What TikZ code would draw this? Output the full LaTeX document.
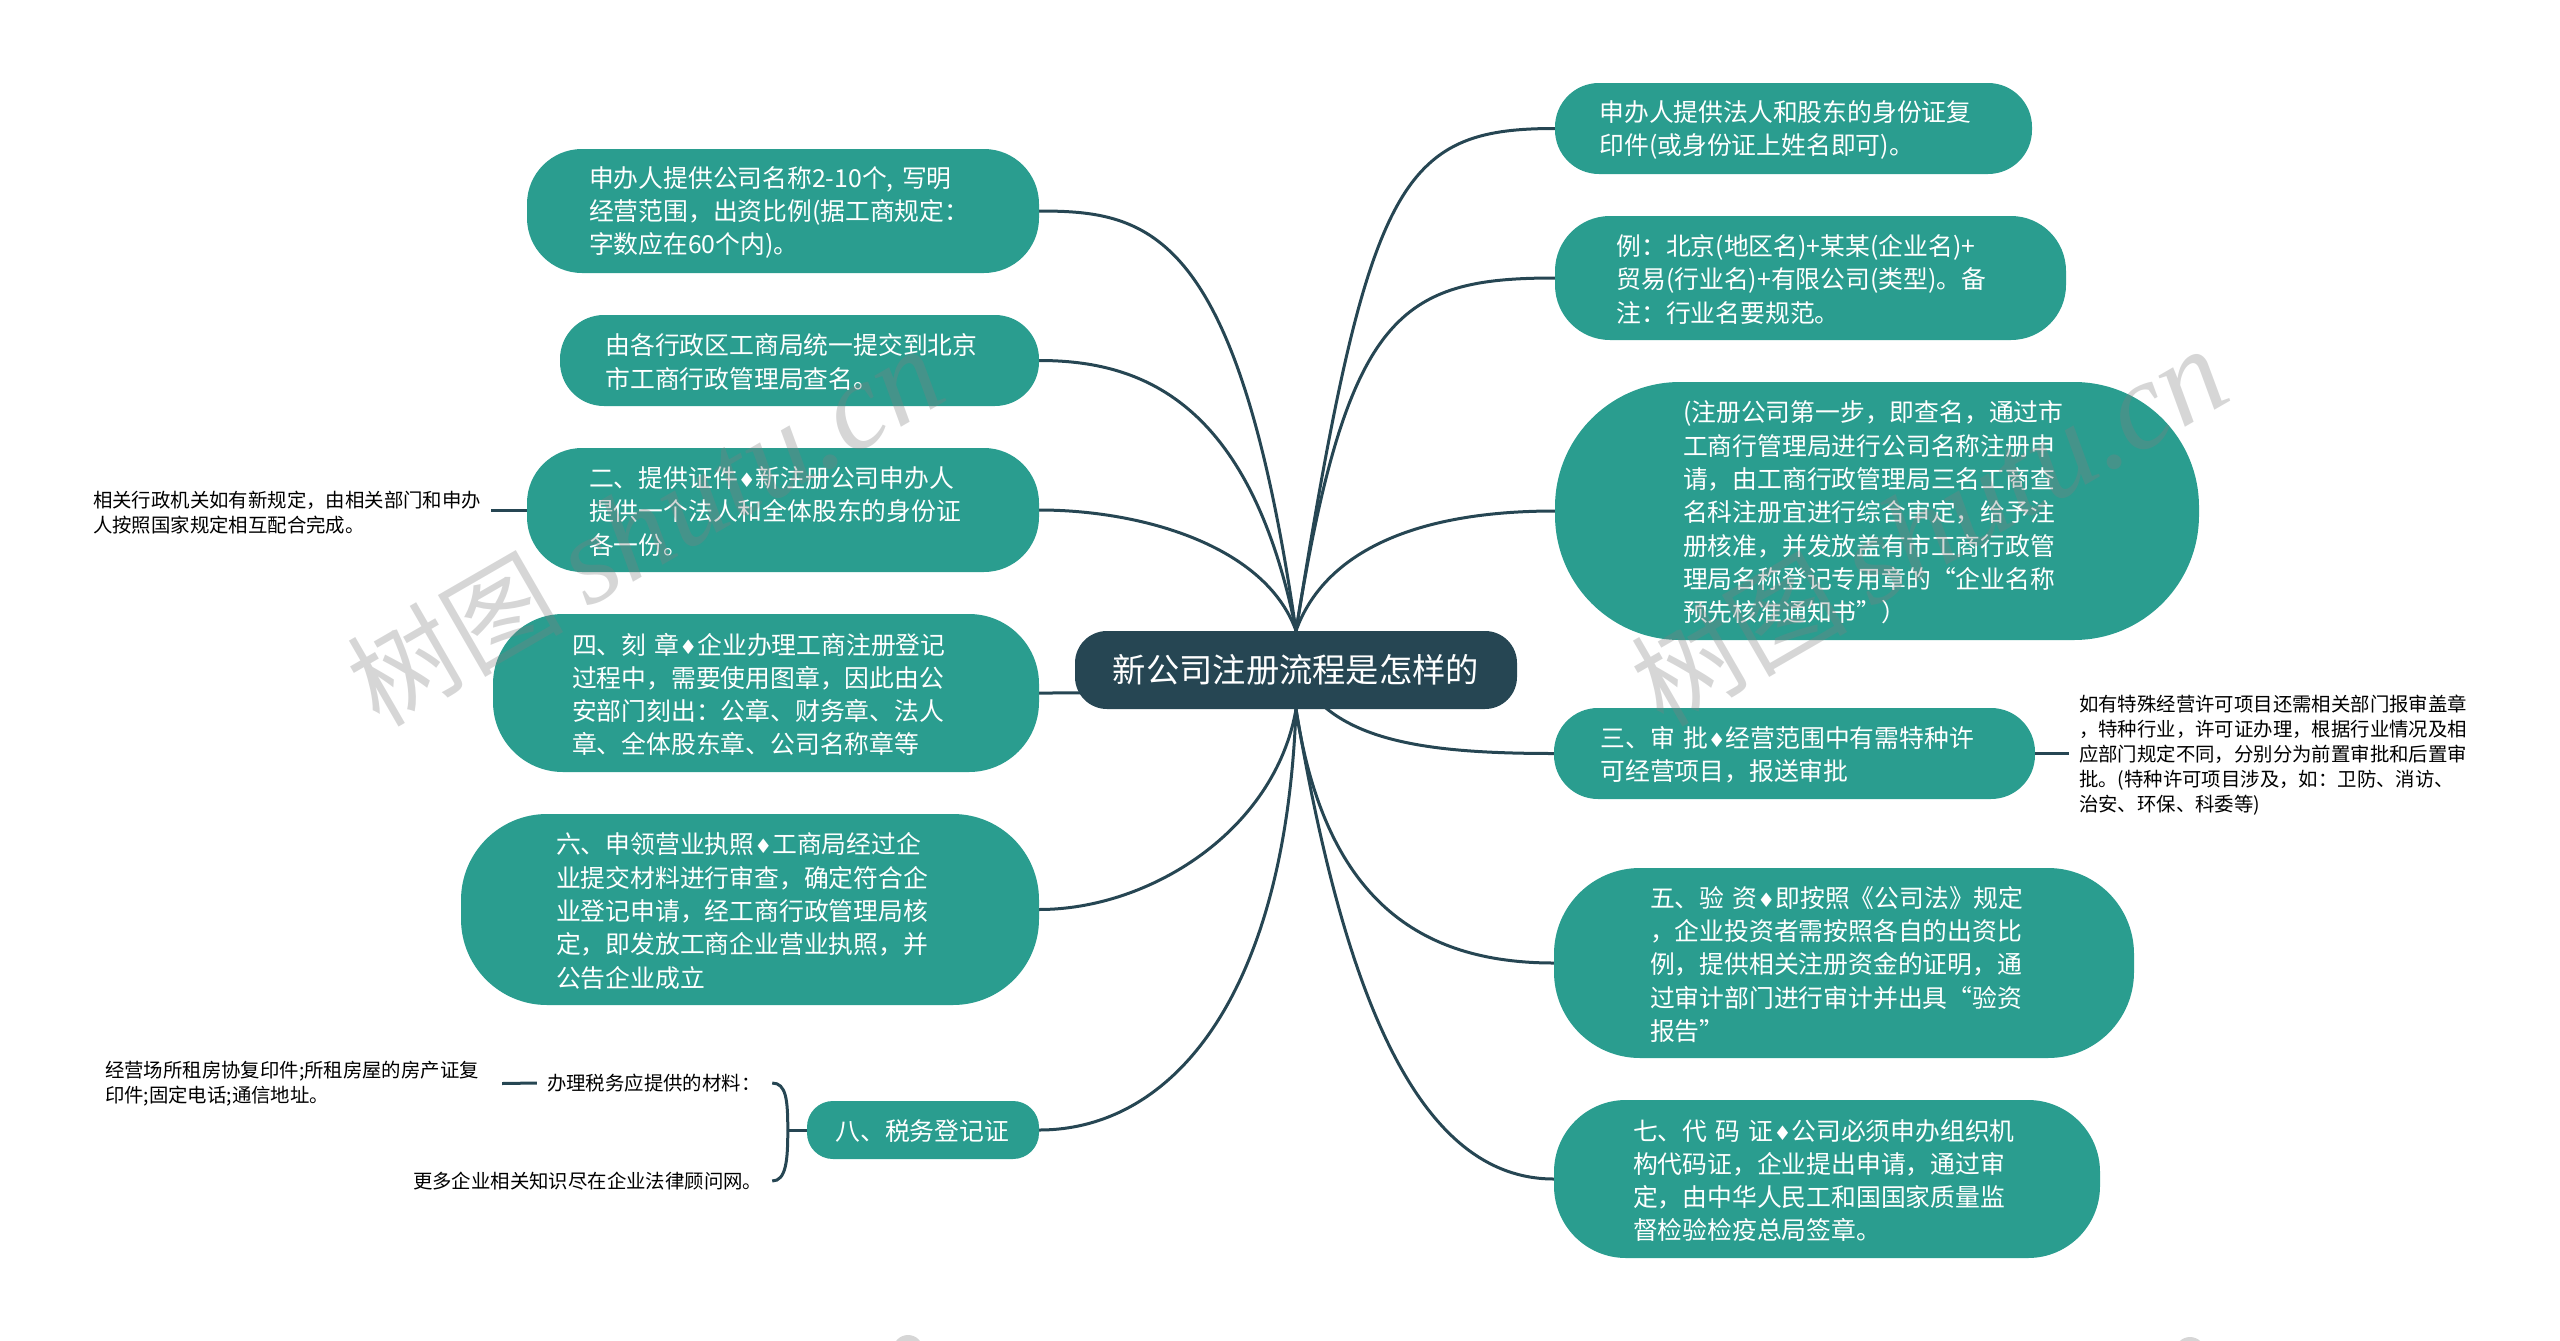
\documentclass[tikz,border=0pt]{standalone}
\usepackage{fontspec}
\setmainfont{Noto Sans CJK SC}
\newfontfamily\diamondfont{DejaVu Sans}
\newfontfamily\markfont{Liberation Serif}
\usetikzlibrary{backgrounds}
\definecolor{pillgreen}{HTML}{2A9D8F}
\definecolor{rootblue}{HTML}{264653}
\newcommand{\dia}{{\diamondfont\fontsize{20pt}{33.3pt}\selectfont ♦}}
\newcommand{\stampmark}{树图 {\markfont\itshape\fontsize{125pt}{130pt}\selectfont shutu.cn}}
\begin{document}
\begin{tikzpicture}[
    x=1pt, y=-1pt,
    pill/.style={fill=pillgreen, text=white, rounded corners=#1, align=left, text width=388pt,
        inner sep=0pt, font=\fontsize{24.8pt}{33.3pt}\selectfont,
        execute at begin node={\rule{0pt}{24pt}}},
    note/.style={text=black, align=left, inner xsep=10pt, inner ysep=0pt,
        font=\fontsize{19.4pt}{25pt}\selectfont},
    link/.style={draw=rootblue, line width=3pt},
    stamp/.style={text=gray, opacity=0.32, rotate=30, font=\fontsize{108pt}{120pt}\selectfont},
    stamptip/.style={fill=gray, opacity=0.32}]

\useasboundingbox (0,0) rectangle (2560,1341);

\node[fill=rootblue, text=white, rounded corners=32pt, minimum width=442pt, minimum height=78pt,
    inner sep=0pt, font=\fontsize{33.3pt}{40pt}\selectfont] (root) at (1296,670) {\raisebox{-1.5pt}{新公司注册流程是怎样的}};

\node[pill=55pt, minimum width=512pt, minimum height=124pt] (name) at (783,211)
    {申办人提供公司名称2-10个, 写明\\经营范围，出资比例(据工商规定：\\字数应在60个内)。};
\node[pill=44pt, minimum width=479pt, minimum height=91pt] (submit) at (799.5,360.5)
    {由各行政区工商局统一提交到北京\\市工商行政管理局查名。};
\node[pill=55pt, minimum width=512pt, minimum height=124pt] (papers) at (783,510)
    {二、提供证件\dia 新注册公司申办人\\提供一个法人和全体股东的身份证\\各一份。};
\node[pill=70pt, minimum width=546pt, minimum height=158pt] (seal) at (766,693)
    {四、刻 章\dia 企业办理工商注册登记\\过程中，需要使用图章，因此由公\\安部门刻出：公章、财务章、法人\\章、全体股东章、公司名称章等};
\node[pill=86pt, minimum width=578pt, minimum height=191pt] (licence) at (750,909.5)
    {六、申领营业执照\dia 工商局经过企\\业提交材料进行审查，确定符合企\\业登记申请，经工商行政管理局核\\定，即发放工商企业营业执照，并\\公告企业成立};
\node[pill=26pt, minimum width=232pt, minimum height=58pt, text width=175pt] (tax) at (923,1130)
    {八、税务登记证};

\node[pill=44pt, minimum width=477pt, minimum height=91pt] (idcopy) at (1793.5,128.5)
    {申办人提供法人和股东的身份证复\\印件(或身份证上姓名即可)。};
\node[pill=55pt, minimum width=511pt, minimum height=124pt] (sample) at (1810.5,278)
    {例：北京(地区名)+某某(企业名)+\\贸易(行业名)+有限公司(类型)。备\\注：行业名要规范。};
\node[pill=125pt, minimum width=644pt, minimum height=258pt] (check) at (1877,511)
    {(注册公司第一步，即查名，通过市\\工商行管理局进行公司名称注册申\\请，由工商行政管理局三名工商查\\名科注册宜进行综合审定，给予注\\册核准，并发放盖有市工商行政管\\理局名称登记专用章的“企业名称\\预先核准通知书”）};
\node[pill=44pt, minimum width=481pt, minimum height=91pt] (approve) at (1794.5,753.5)
    {三、审 批\dia 经营范围中有需特种许\\可经营项目，报送审批};
\node[pill=86pt, minimum width=580pt, minimum height=190pt] (capital) at (1844,963)
    {五、验 资\dia 即按照《公司法》规定\\，企业投资者需按照各自的出资比\\例，提供相关注册资金的证明，通\\过审计部门进行审计并出具“验资\\报告”};
\node[pill=72pt, minimum width=546pt, minimum height=158pt] (code) at (1827,1179)
    {七、代 码 证\dia 公司必须申办组织机\\构代码证，企业提出申请，通过审\\定，由中华人民工和国国家质量监\\督检验检疫总局签章。};

\node[note, text width=388pt] (papersnote) at (287,513)
    {相关行政机关如有新规定，由相关部门和申办\\人按照国家规定相互配合完成。};
\node[note, text width=389pt] (approvenote) at (2273.5,755)
    {如有特殊经营许可项目还需相关部门报审盖章\\，特种行业，许可证办理，根据行业情况及相\\应部门规定不同，分别分为前置审批和后置审\\批。(特种许可项目涉及，如：卫防、消访、\\治安、环保、科委等)};
\node[note, text width=387pt] (taxnote) at (298.5,1083.5)
    {经营场所租房协复印件;所租房屋的房产证复\\印件;固定电话;通信地址。};
\node[note, text width=215pt] (taxitem) at (654.5,1083) {办理税务应提供的材料：};
\node[note, text width=349pt] (taxmore) at (587.5,1181) {更多企业相关知识尽在企业法律顾问网。};

\begin{scope}[on background layer]
    \draw[link] (root.north) .. controls +(72,-450) and +(-155,0) .. (idcopy.west);
    \draw[link] (root.north) .. controls +(51,-318) and +(-155,0) .. (sample.west);
    \draw[link] (root.north) .. controls +(25,-70) and +(-155,0) .. (check.west);
    \draw[link] (root.center) .. controls +(34,70) and +(-134,0) .. (approve.west);
    \draw[link] (root.south) .. controls +(29,191) and +(-134,0) .. (capital.west);
    \draw[link] (root.south) .. controls +(49,291) and +(-134,0) .. (code.west);
    \draw[link] (root.north) .. controls +(-58,-401) and +(111,0) .. (name.east);
    \draw[link] (root.north) .. controls +(-46,-231) and +(101,0) .. (submit.east);
    \draw[link] (root.north) .. controls +(-31,-86) and +(101,0) .. (papers.east);
    \draw[link] (root.center) .. controls +(-60,23) and +(60,0) .. (seal.east);
    \draw[link] (root.south) .. controls +(-21,121) and +(111,0) .. (licence.east);
    \draw[link] (root.south) .. controls +(-11,291) and +(131,0) .. (tax.east);
\end{scope}

\draw[link] (papers.west) -- (papers.west -| papersnote.east);
\draw[link] (approve.east) -- (approve.east -| approvenote.west);
\draw[link] (taxnote.east) -- (taxitem.west);
\draw[link] (tax.west) -- +(-19,0) coordinate (taxjoin);
\draw[link] (taxitem.east) .. controls +(14,0) and +(0,-30) .. (taxjoin);
\draw[link] (taxmore.east) .. controls +(14,0) and +(0,30) .. (taxjoin);

\node[stamp] (stampleft) at (645,528) {\stampmark};
\node[stamp] (stampright) at (1929,528) {\stampmark};
\fill[stamptip] (908,1350) circle (15);
\fill[stamptip] (2190,1352) circle (15);

\end{tikzpicture}
\end{document}
